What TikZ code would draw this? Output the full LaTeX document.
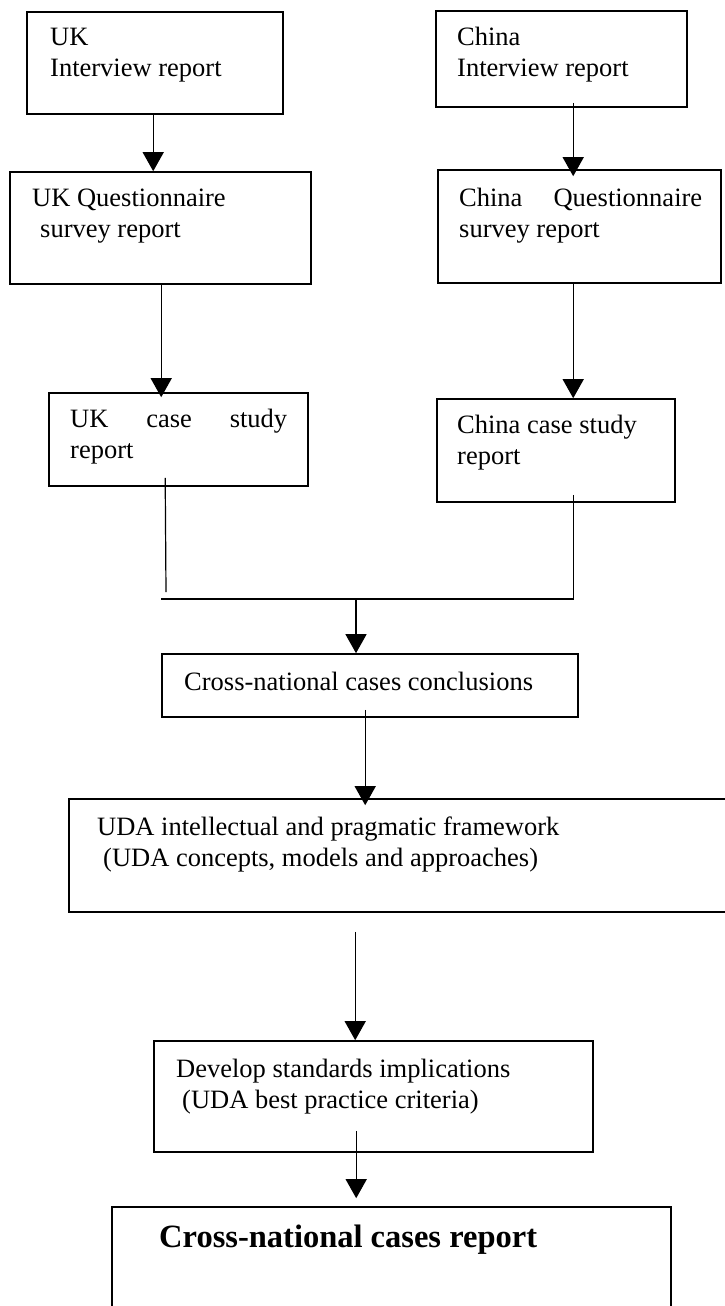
\documentclass[tikz,border=0pt]{standalone}
\usepackage{fontspec}
\setmainfont{Liberation Serif}
\usetikzlibrary{arrows.meta,calc,fit}
\begin{document}
\begin{tikzpicture}[x=1pt,y=-1pt,
  box/.style={draw, line width=1.6pt, inner sep=0pt},
  txt/.style={anchor=base west, inner sep=0pt, font=\fontsize{26.5}{31}\selectfont},
  big/.style={anchor=base west, inner sep=0pt, font=\fontsize{32.5}{38}\selectfont\bfseries},
  link/.style={line width=1.2pt},
  arr/.style={link, -{Triangle[width=21pt,length=19pt]}}]
\useasboundingbox (0,0) rectangle (725,1306);

% boxes
\node[box, fit={(27,12) (283,114)}]   (ukint)  {};
\node[box, fit={(436,11) (687,107)}]  (cnint)  {};
\node[box, fit={(10,172) (311,284)}]  (ukq)    {};
\node[box, fit={(438,170) (721,283)}] (cnq)    {};
\node[box, fit={(49,393) (308,486)}]  (ukcase) {};
\node[box, fit={(437,399) (675,502)}] (cncase) {};
\node[box, fit={(162,654) (578,717)}] (concl)  {};
\node[box, fit={(69,799) (745,912)}]  (uda)    {};
\node[box, fit={(154,1041) (593,1152)}] (dev)  {};
\node[box, fit={(112,1207) (671,1325)}] (rep)  {};

% box texts
\node[txt] (ukint-t) at (50,46) {\begin{tabular}[t]{@{}l@{}}UK\\Interview report\end{tabular}};
\node[txt] (cnint-t) at (457,46) {\begin{tabular}[t]{@{}l@{}}China\\Interview report\end{tabular}};
\node[txt] (ukq-t) at (32,206) {\begin{tabular}[t]{@{}l@{}}UK Questionnaire\\\hspace*{8pt}survey report\end{tabular}};
\node[txt] (cnq-t) at (459,206) {\begin{tabular}[t]{@{}l@{}}\makebox[243pt][s]{China Questionnaire}\\survey report\end{tabular}};
\node[txt] (ukcase-t) at (70,427) {\begin{tabular}[t]{@{}l@{}}\makebox[217pt][s]{UK case study}\\report\end{tabular}};
\node[txt] (cncase-t) at (457,433) {\begin{tabular}[t]{@{}l@{}}China case study\\report\end{tabular}};
\node[txt] (concl-t) at (184,690) {Cross-national cases conclusions};
\node[txt] (uda-t) at (97,835) {\begin{tabular}[t]{@{}l@{}}UDA intellectual and pragmatic framework\\\hspace*{6pt}(UDA concepts, models and approaches)\end{tabular}};
\node[txt] (dev-t) at (176,1077) {\begin{tabular}[t]{@{}l@{}}Develop standards implications\\\hspace*{6pt}(UDA best practice criteria)\end{tabular}};
\node[big] (rep-t) at (159,1247) {Cross-national cases report};

% merge point of the two case study reports
\coordinate (ukfoot) at (166,592);
\coordinate (hl) at (161,599);
\coordinate (hub) at (356,599);

% connectors
\draw[arr] ($(ukint.south west)+(127,0)$) coordinate (c1) -- (c1 |- ukq.north);
\draw[arr] ($(cnint.south west)+(138,-5)$) coordinate (c2) -- ($(c2 |- cnq.north)+(0,7)$);
\draw[arr] ($(ukq.south west)+(152,0)$) coordinate (c3) -- ($(c3 |- ukcase.north)+(0,5)$);
\draw[arr] ($(cnq.south west)+(136,0)$) coordinate (c4) -- (c4 |- cncase.north);
\draw[link] ($(ukcase.south west)+(117,-9)$) -- (ukfoot);
\draw[link] ($(cncase.south west)+(137,-8)$) |- (hl);
\draw[arr] (hub) -- (hub |- concl.north);
\draw[arr] ($(concl.south west)+(204,-8)$) coordinate (c5) -- ($(c5 |- uda.north)+(0,7)$);
\draw[arr] ($(uda.south west)+(287,19)$) coordinate (c6) -- (c6 |- dev.north);
\draw[arr] ($(dev.south west)+(203,-22)$) coordinate (c7) -- ($(c7 |- rep.north)+(0,-8)$);
\end{tikzpicture}
\end{document}
